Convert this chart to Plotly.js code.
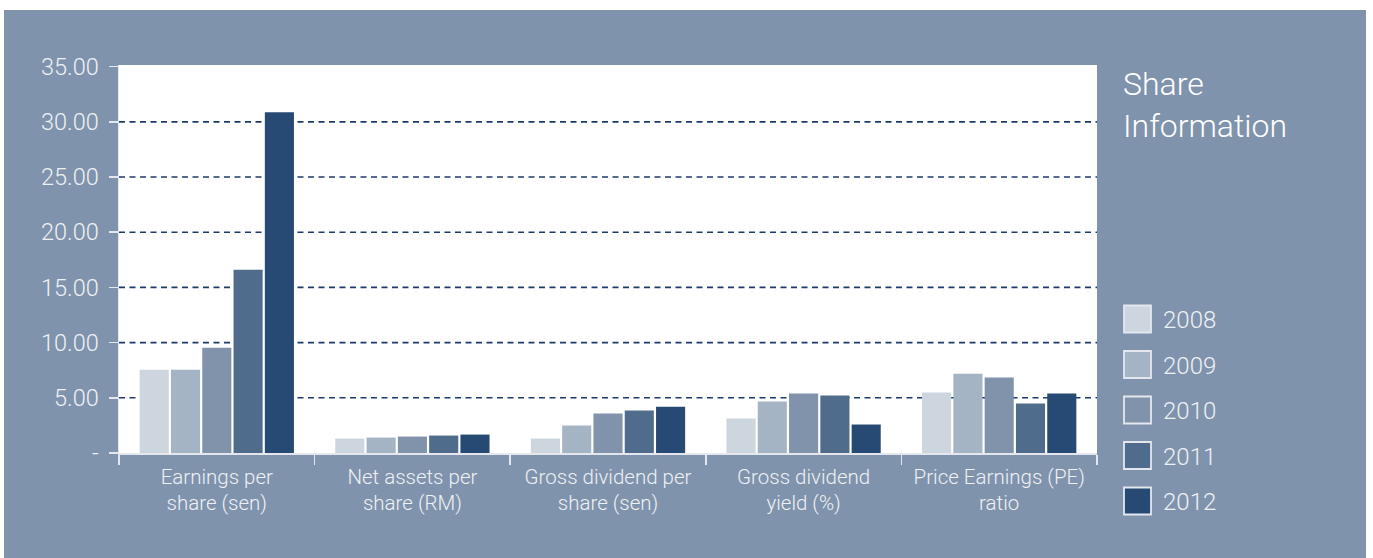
<!DOCTYPE html>
<html>
<head>
<meta charset="utf-8">
<script src="https://cdn.plot.ly/plotly-3.0.1.min.js"></script>
<style>
  html, body { margin: 0; padding: 0; background: #ffffff; width: 1373px; height: 558px; overflow: hidden; }
  #panel { position: absolute; left: 4px; top: 10px; width: 1362px; height: 548px; background: #8093ac; }
  #chart { width: 1362px; height: 548px; }
</style>
</head>
<body>
<div id="panel"><div id="chart"></div></div>
<script>
// ---- data ----
const categories = [
  "Earnings per<br>share (sen)",
  "Net assets per<br>share (RM)",
  "Gross dividend per<br>share (sen)",
  "Gross dividend<br>yield (%)",
  "Price Earnings (PE)<br>ratio"
];
const years = ["2008", "2009", "2010", "2011", "2012"];
const v2008 = [7.55, 1.31, 1.31, 3.12, 5.47];
const v2009 = [7.55, 1.40, 2.49, 4.66, 7.19];
const v2010 = [9.54, 1.49, 3.57, 5.38, 6.83];
const v2011 = [16.6, 1.58, 3.84, 5.20, 4.48];
const v2012 = [30.88, 1.67, 4.20, 2.58, 5.38];
const seriesValues = [v2008, v2009, v2010, v2011, v2012];
const yTickVals = [0, 5, 10, 15, 20, 25, 30, 35];
const yTickText = ["-", "5.00", "10.00", "15.00", "20.00", "25.00", "30.00", "35.00"];
const gridVals = [5, 10, 15, 20, 25, 30];
const chartTitle = ["Share", "Information"];

// ---- style ----
const colors = ["#cdd5df", "#a5b4c5", "#8093ab", "#506c8c", "#264a73"];
const bg = "#8093ac";
const textColor = "#eef1f5";
const lightLine = "#e4e8ee";
const fontFam = "Roboto, 'Liberation Sans', Arial, sans-serif";

// geometry helpers (pixel -> paper) for the side panel
const W = 1362, H = 548, mL = 115, mR = 269, mT = 55, mB = 105;
const pw = W - mL - mR, ph = H - mT - mB;
const px = X => (X - 4 - mL) / pw;
const py = Y => (H - mB - (Y - 10)) / ph;

const traces = years.map((yr, i) => ({
  type: "bar",
  name: yr,
  x: categories,
  y: seriesValues[i],
  marker: { color: colors[i], line: { width: 0 } },
  hoverinfo: "x+y+name"
}));

const shapes = gridVals.map(g => ({
  type: "line", xref: "paper", yref: "y", x0: 0, x1: 1, y0: g, y1: g,
  line: { color: "#1c3a6a", width: 1.6, dash: "6px,4.5px" }, layer: "below"
}));

const annotations = [];
chartTitle.forEach((t, i) => {
  annotations.push({
    text: t, xref: "paper", yref: "paper", x: px(1121), y: py(84 + i * 42),
    xanchor: "left", yanchor: "middle", showarrow: false,
    font: { family: fontFam, size: 32, color: "#ffffff", weight: 300 }
  });
});
years.forEach((yr, i) => {
  const cy = 319 + i * 45.5;
  shapes.push({
    type: "rect", xref: "paper", yref: "paper",
    x0: px(1124), x1: px(1151), y0: py(cy - 13.5), y1: py(cy + 13.5),
    fillcolor: colors[i], line: { color: lightLine, width: 1.8 }
  });
  annotations.push({
    text: yr, xref: "paper", yref: "paper", x: px(1161), y: py(cy + 1),
    xanchor: "left", yanchor: "middle", showarrow: false,
    font: { family: fontFam, size: 24, color: textColor, weight: 300 }
  });
});

const layout = {
  width: W, height: H,
  margin: { l: mL, r: mR, t: mT, b: mB, pad: 0 },
  paper_bgcolor: bg,
  plot_bgcolor: "#ffffff",
  showlegend: false,
  barmode: "group",
  bargap: 0.2,
  bargroupgap: 0.07,
  font: { family: fontFam, color: textColor, weight: 300 },
  xaxis: {
    type: "category",
    tickson: "boundaries",
    ticks: "outside", ticklen: 10, tickwidth: 1.5, tickcolor: lightLine,
    ticklabelstandoff: 4,
    showline: true, linecolor: lightLine, linewidth: 2,
    showgrid: false, zeroline: false,
    tickfont: { family: fontFam, size: 20.5, color: textColor, weight: 300 },
    fixedrange: true
  },
  yaxis: {
    range: [0, 35.15],
    tickvals: yTickVals, ticktext: yTickText,
    ticks: "outside", ticklen: 9, tickwidth: 1.5, tickcolor: lightLine,
    ticklabelstandoff: 5,
    showline: true, linecolor: lightLine, linewidth: 1.5,
    showgrid: false, zeroline: false,
    tickfont: { family: fontFam, size: 23.5, color: textColor, weight: 300 },
    fixedrange: true
  },
  shapes: shapes,
  annotations: annotations
};

Plotly.newPlot("chart", traces, layout, { displayModeBar: false, staticPlot: true });
</script>
</body>
</html>
